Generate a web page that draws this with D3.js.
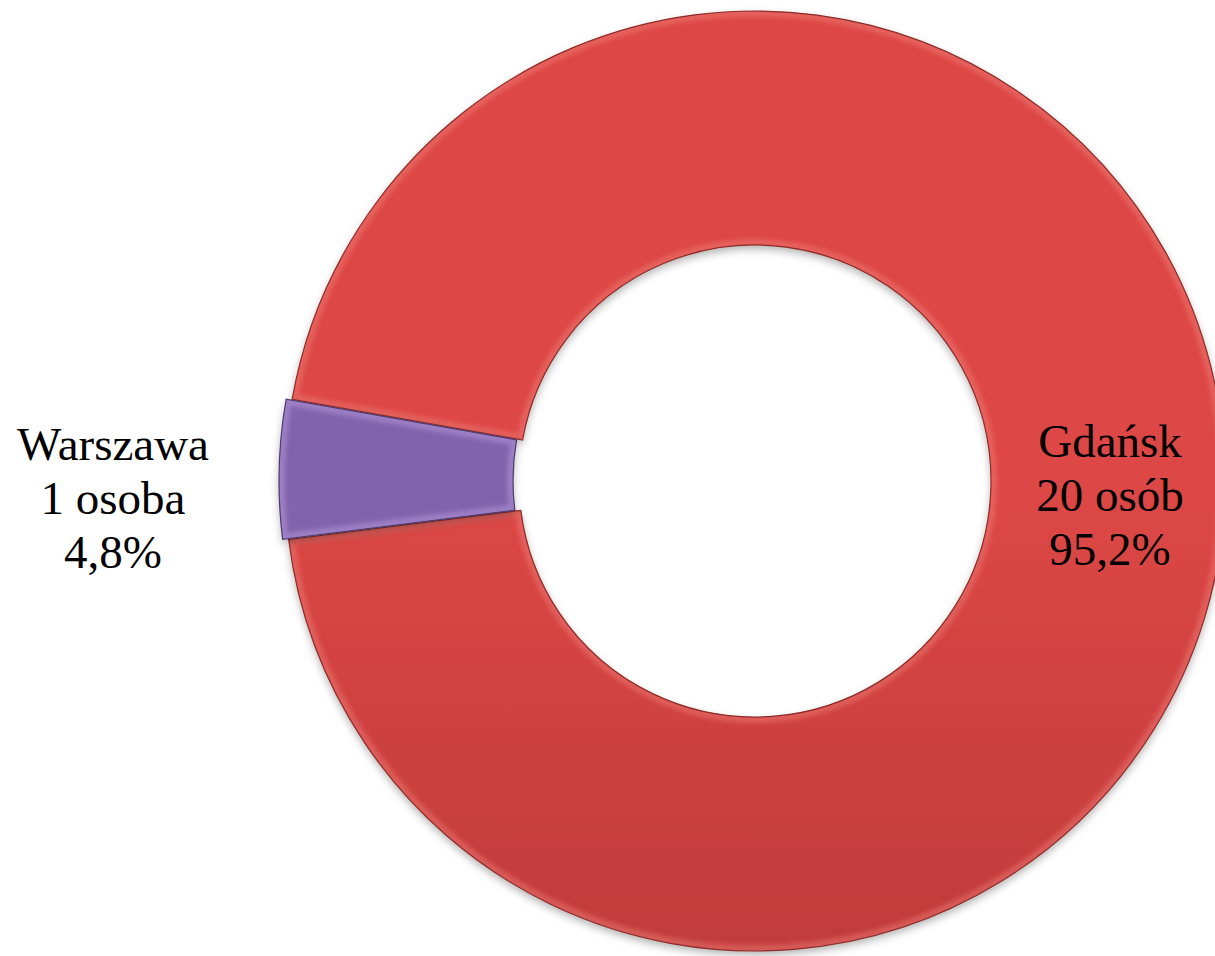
<!DOCTYPE html>
<html><head><meta charset="utf-8">
<script src="https://cdn.jsdelivr.net/npm/d3@7"></script>
<style>html,body{margin:0;padding:0;background:#fff;}svg{display:block;}</style>
</head><body>
<svg id="chart" width="1215" height="956"></svg>
<script>
const categories = ["Gdańsk", "Warszawa"];
const counts = [20, 1];
const countLabels = ["20 osób", "1 osoba"];
const percentLabels = ["95,2%", "4,8%"];

const svg = d3.select("#chart");
const cx = 755, cy = 481, R = 470, r = 236;
const defs = svg.append("defs");

const grads = [
  {id: "gRed", top: "#dd4745", bottom: "#a2302f", y1: cy - R, y2: cy + R},
  {id: "gPur", top: "#8262ab", bottom: "#694c90", y1: cy - 80, y2: cy + 70}
];
grads.forEach(g => {
  const lg = defs.append("linearGradient").attr("id", g.id)
    .attr("gradientUnits", "userSpaceOnUse")
    .attr("x1", 0).attr("y1", g.y1).attr("x2", 0).attr("y2", g.y2);
  lg.append("stop").attr("offset", "0%").attr("stop-color", g.top);
  lg.append("stop").attr("offset", "100%").attr("stop-color", g.bottom);
});

const sh = defs.append("filter").attr("id", "shadow")
  .attr("x", "-10%").attr("y", "-10%").attr("width", "120%").attr("height", "120%");
sh.append("feDropShadow").attr("dx", 0).attr("dy", 4).attr("stdDeviation", 4)
  .attr("flood-color", "#000").attr("flood-opacity", 0.3);

const soft = defs.append("filter").attr("id", "soft");
soft.append("feGaussianBlur").attr("stdDeviation", 2);

const startA = 280 * Math.PI / 180;
const pie = d3.pie().sort(null).value(d => d)
  .startAngle(startA).endAngle(startA + 2 * Math.PI);
const arcs = pie(counts);
const arc = d3.arc().innerRadius(r).outerRadius(R);
const explode = [0, 6];
const fills = ["url(#gRed)", "url(#gPur)"];
const highlights = ["#f07e7a", "#b095d8"];
const hlOpacity = [0.45, 0.55];
const strokes = ["#8e2b28", "#4f3a6e"];

const g = svg.append("g").attr("transform", `translate(${cx},${cy})`);
arcs.forEach((a, i) => {
  const mid = (a.startAngle + a.endAngle) / 2;
  const dx = Math.sin(mid) * explode[i], dy = -Math.cos(mid) * explode[i];
  const d = arc(a);
  const cid = "clip" + i;
  defs.append("clipPath").attr("id", cid).append("path").attr("d", d);
  const sg = g.append("g").attr("transform", `translate(${dx},${dy})`);
  sg.append("path").attr("d", d).attr("fill", fills[i]).attr("filter", "url(#shadow)");
  const inner = sg.append("g").attr("clip-path", `url(#${cid})`);
  inner.append("path").attr("d", d).attr("fill", "none")
    .attr("stroke", highlights[i]).attr("stroke-width", 12).attr("stroke-opacity", hlOpacity[i])
    .attr("filter", "url(#soft)");
  sg.append("path").attr("d", d).attr("fill", "none")
    .attr("stroke", strokes[i]).attr("stroke-width", 1.2);
});

// labels
const labelPos = [{x: 1110, y: 457}, {x: 113, y: 460}];
const lh = 54;
categories.forEach((c, i) => {
  const t = svg.append("text")
    .attr("x", labelPos[i].x).attr("y", labelPos[i].y)
    .attr("text-anchor", "middle")
    .attr("font-family", "'Liberation Serif', 'Times New Roman', serif")
    .attr("font-size", 47).attr("fill", "#000");
  [c, countLabels[i], percentLabels[i]].forEach((s, k) => {
    t.append("tspan").attr("x", labelPos[i].x).attr("dy", k === 0 ? 0 : lh).text(s);
  });
});
</script>
</body></html>
